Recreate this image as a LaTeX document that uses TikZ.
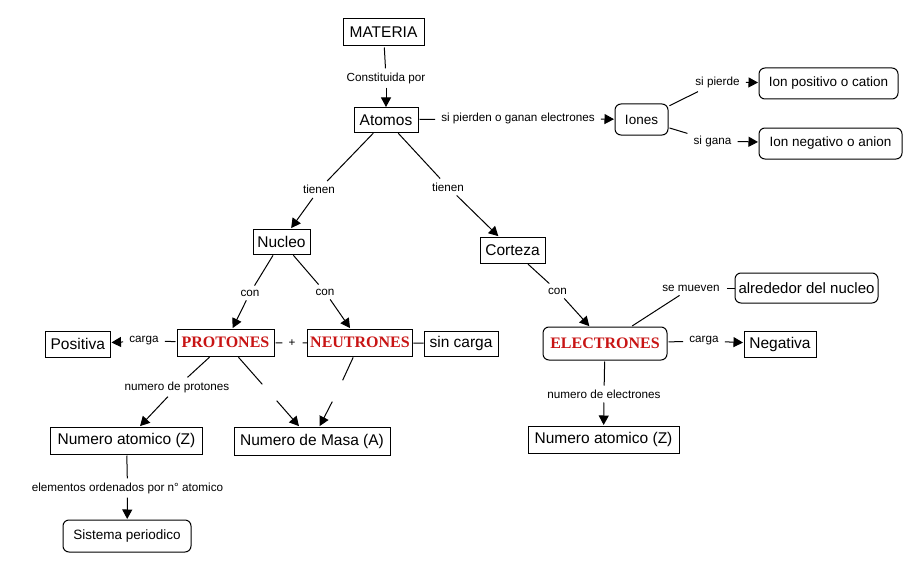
\documentclass[tikz,border=0pt]{standalone}
\usepackage{fontspec}
\setmainfont{Liberation Sans}
\newfontfamily\redserif{Liberation Serif}
\usetikzlibrary{arrows.meta}
\definecolor{conred}{RGB}{200,20,20}
\tikzset{
  cbox/.style={draw, line width=1pt, rectangle, inner sep=0pt, font=\fontsize{15.5}{18}\selectfont},
  rbox/.style={draw, line width=1pt, rectangle, rounded corners=6pt, inner sep=0pt, font=\fontsize{13.5}{16}\selectfont},
  redtxt/.style={text=conred, font=\redserif\bfseries\fontsize{16}{19}\selectfont},
  lbl/.style={inner xsep=6pt, inner ysep=4pt, font=\fontsize{11.7}{14}\selectfont},
  hidden/.style={inner sep=0pt},
  ln/.style={line width=1pt, shorten <=1pt},
  ar/.style={line width=1pt, -{Triangle[length=9.5pt,width=10pt]}, shorten >=0.5pt},
  sz/.style 2 args={minimum width=#1pt, minimum height=#2pt}
}
\begin{document}
\begin{tikzpicture}[x=1pt,y=-1pt]
\useasboundingbox (0,0) rectangle (912,567);
% concepts
\node[cbox, sz={81}{27}] (materia) at (383.5,32.5) {MATERIA};
\node[cbox, sz={64}{24}] (atomos) at (386,120) {Atomos};
\node[rbox, sz={53}{31}] (iones) at (641.5,119.5) {Iones};
\node[rbox, sz={139}{31}] (ionpos) at (828.5,83.5) {Ion positivo o cation};
\node[rbox, sz={143}{31}] (ionneg) at (830.5,143.5) {Ion negativo o anion};
\node[cbox, sz={57}{25}] (nucleo) at (281.5,241.5) {Nucleo};
\node[cbox, sz={65}{26}] (corteza) at (512.5,250) {Corteza};
\node[cbox, redtxt, sz={97}{27}] (protones) at (225.5,342.5) {PROTONES};
\node[cbox, redtxt, sz={105.5}{27}] (neutrones) at (360,342.5) {NEUTRONES};
\node[cbox, sz={74}{25}] (sincarga) at (461,343.5) {sin carga};
\node[cbox, sz={65.5}{26}] (positiva) at (77.75,344) {Positiva};
\node[rbox, redtxt, sz={124}{33}] (electrones) at (605,343.5) {ELECTRONES};
\node[rbox, sz={143}{30}, font=\fontsize{15}{18}\selectfont] (alrededor) at (806.5,288) {alrededor del nucleo};
\node[cbox, sz={72}{26}] (negativa) at (780,344) {Negativa};
\node[cbox, sz={151}{27}] (numzR) at (603.5,439.5) {Numero atomico (Z)};
\node[cbox, sz={152}{27}] (numzL) at (126.5,440.5) {Numero atomico (Z)};
\node[cbox, sz={156}{28}] (masa) at (312,441) {Numero de Masa (A)};
\node[rbox, sz={128}{32}] (sistema) at (127,536) {Sistema periodico};
% linking phrases
\node[lbl] (constituida) at (386,78) {Constituida por};
\node[lbl] (sipierden) at (518,118) {si pierden o ganan electrones};
\node[lbl] (sipierde) at (717.5,82) {si pierde};
\node[lbl] (sigana) at (712.5,141) {si gana};
\node[lbl] (tienenL) at (319,189.5) {tienen};
\node[lbl] (tienenR) at (448,187) {tienen};
\node[lbl] (conL) at (250,293) {con};
\node[lbl] (conR) at (325,292) {con};
\node[lbl] (cargaL) at (144,341) {carga};
\node[lbl] (plus) at (292,343) {+};
\node[lbl] (conE) at (557.5,291) {con};
\node[lbl] (semueven) at (691,288) {se mueven};
\node[lbl] (cargaR) at (704,341) {carga};
\node[lbl] (numelec) at (604,394) {numero de electrones};
\node[lbl] (numprot) at (177,387) {numero de protones};
\node[lbl] (elem) at (127.5,488) {elementos ordenados por n° atomico};
\node[hidden, sz={14}{18}] (m1) at (269.5,392.5) {};
\node[hidden, sz={10}{22}] (m2) at (337.5,391.5) {};
% connectors
\draw[ln] (materia) -- (constituida);
\draw[ar] (constituida) -- (atomos);
\draw[ln] (atomos) -- (sipierden);
\draw[ar] (sipierden) -- (iones);
\draw[ln] (iones) -- (sipierde);
\draw[ar] (sipierde) -- (ionpos);
\draw[ln] (iones) -- (sigana);
\draw[ar] (sigana) -- (ionneg);
\draw[ln] (atomos) -- (tienenL);
\draw[ar] (tienenL) -- (nucleo);
\draw[ln] (atomos) -- (tienenR);
\draw[ar] (tienenR) -- (corteza);
\draw[ln] (nucleo) -- (conL);
\draw[ar] (conL) -- (protones);
\draw[ln] (nucleo) -- (conR);
\draw[ar] (conR) -- (neutrones);
\draw[ln] (protones) -- (cargaL);
\draw[ar] (cargaL) -- (positiva);
\draw[ln] (protones) -- (plus);
\draw[ln] (plus) -- (neutrones);
\draw[line width=1pt] (neutrones) -- (sincarga);
\draw[ln] (protones) -- (numprot);
\draw[ar] (numprot) -- (numzL);
\draw[ln] (protones) -- (m1);
\draw[ar] (m1) -- (masa);
\draw[ln] (neutrones) -- (m2);
\draw[ar] (m2) -- (masa);
\draw[ln] (numzL) -- (elem);
\draw[ar] (elem) -- (sistema);
\draw[ln] (corteza) -- (conE);
\draw[ar] (conE) -- (electrones);
\draw[ln] (electrones) -- (semueven);
\draw[ln] (semueven) -- (alrededor);
\draw[ln] (electrones) -- (cargaR);
\draw[ar] (cargaR) -- (negativa);
\draw[ln] (electrones) -- (numelec);
\draw[ar] (numelec) -- (numzR);
\end{tikzpicture}
\end{document}
